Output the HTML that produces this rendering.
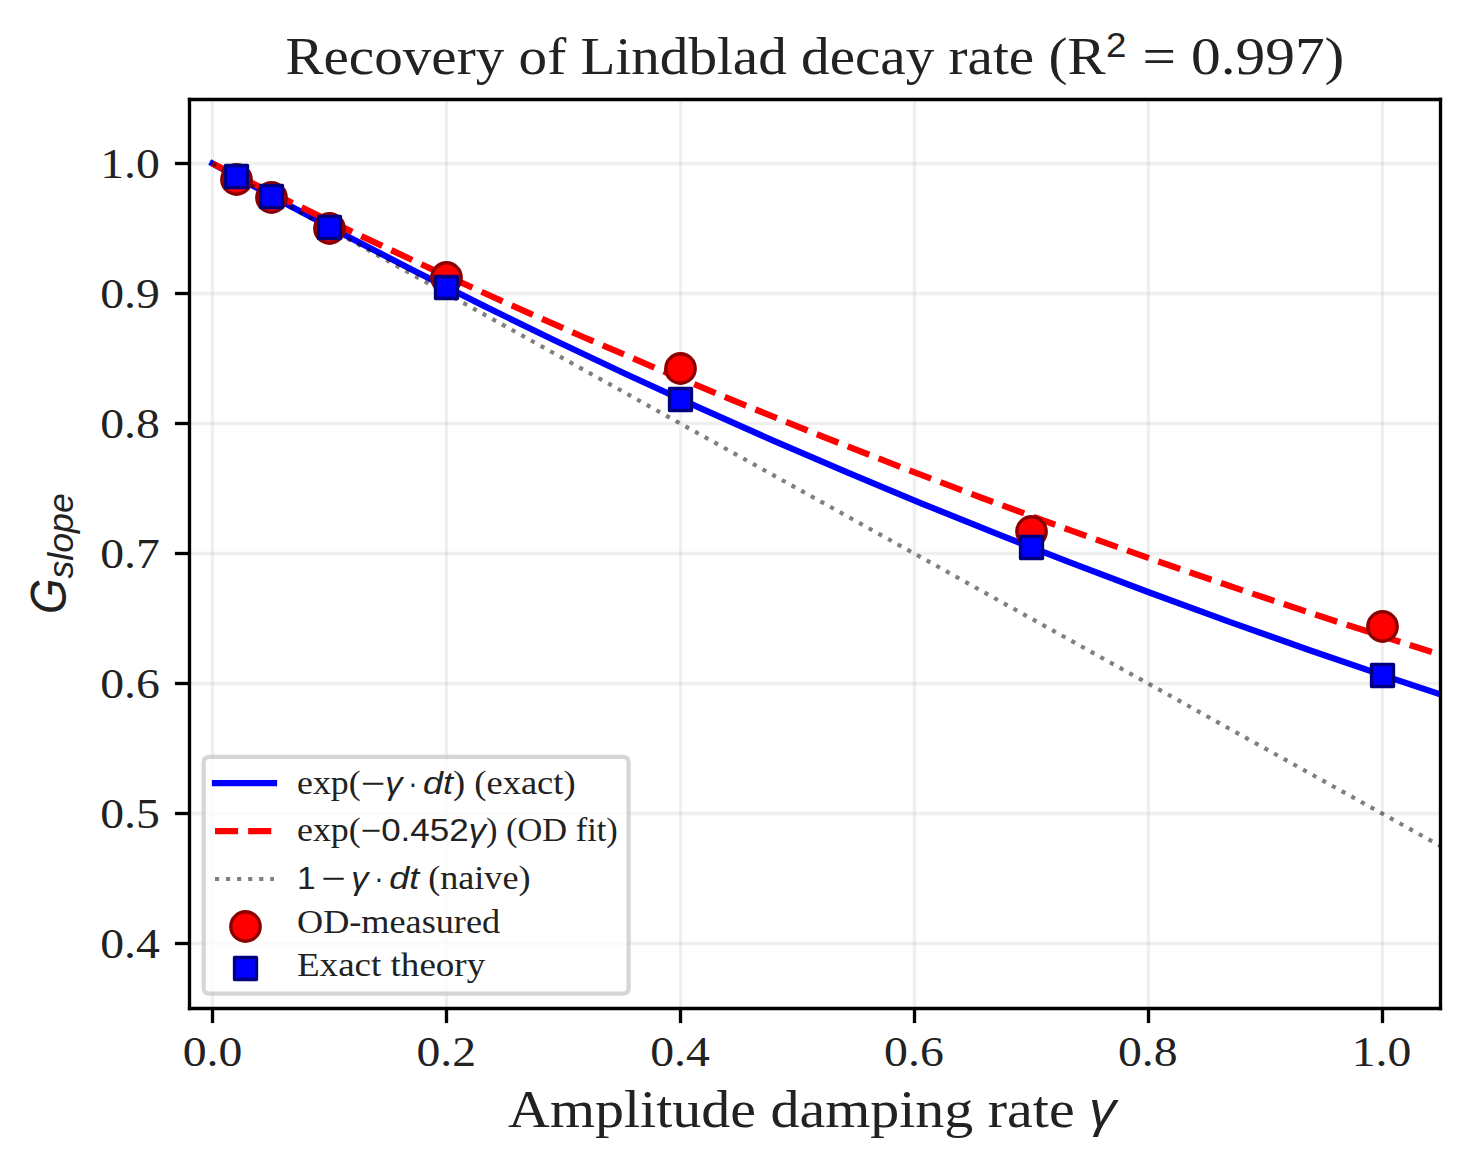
<!DOCTYPE html>
<html><head><meta charset="utf-8"><title>Recovery of Lindblad decay rate</title><style>html,body{margin:0;padding:0;background:#fff;width:1470px;height:1170px;overflow:hidden}svg{display:block}</style></head><body>
<svg width="1470" height="1170" viewBox="0 0 352.8 280.8" version="1.1">
 
 <defs>
  <style type="text/css">*{stroke-linejoin: round; stroke-linecap: butt}</style>
 </defs>
 <g id="figure_1">
  <g id="patch_1">
   <path d="M 0 280.8 
L 352.8 280.8 
L 352.8 0 
L 0 0 
z
" style="fill: #ffffff"/>
  </g>
  <g id="axes_1">
   <g id="patch_2">
    <path d="M 45.38 241.96 
L 345.6 241.96 
L 345.6 23.64 
L 45.38 23.64 
z
" style="fill: #ffffff"/>
   </g>
   <g id="matplotlib.axis_1">
    <g id="xtick_1">
     <g id="line2d_1">
      <path d="M 51.000000 242.040000 L 51.000000 23.880000" clip-path="url(#p23fef5aefc)" style="fill: none; stroke: #b0b0b0; stroke-opacity: 0.2; stroke-width: 0.8; stroke-linecap: square"/>
     </g>
     <g id="line2d_2">
      <defs>
       <path id="m1504cfccaf" d="M 0 0 
L 0 3.5 
" style="stroke: #000000; stroke-width: 0.8"/>
      </defs>
      <g>
       <use href="#m1504cfccaf" x="51.000000" y="242.040000" style="stroke: #000000; stroke-width: 0.8"/>
      </g>
     </g>
     <g id="text_1">
      <text x="43.8351" y="255.9200" style="font-family:&quot;Liberation Serif&quot;,serif;font-size:10.2600px;font-style:normal;white-space:pre;fill:#222" textLength="14.3130" lengthAdjust="spacingAndGlyphs">0.0</text>
     </g>
    </g>
    <g id="xtick_2">
     <g id="line2d_3">
      <path d="M 107.160000 242.040000 L 107.160000 23.880000" clip-path="url(#p23fef5aefc)" style="fill: none; stroke: #b0b0b0; stroke-opacity: 0.2; stroke-width: 0.8; stroke-linecap: square"/>
     </g>
     <g id="line2d_4">
      <g>
       <use href="#m1504cfccaf" x="107.160000" y="242.040000" style="stroke: #000000; stroke-width: 0.8"/>
      </g>
     </g>
     <g id="text_2">
      <text x="99.9510" y="255.9200" style="font-family:&quot;Liberation Serif&quot;,serif;font-size:10.2600px;font-style:normal;white-space:pre;fill:#222" textLength="14.3130" lengthAdjust="spacingAndGlyphs">0.2</text>
     </g>
    </g>
    <g id="xtick_3">
     <g id="line2d_5">
      <path d="M 163.320000 242.040000 L 163.320000 23.880000" clip-path="url(#p23fef5aefc)" style="fill: none; stroke: #b0b0b0; stroke-opacity: 0.2; stroke-width: 0.8; stroke-linecap: square"/>
     </g>
     <g id="line2d_6">
      <g>
       <use href="#m1504cfccaf" x="163.320000" y="242.040000" style="stroke: #000000; stroke-width: 0.8"/>
      </g>
     </g>
     <g id="text_3">
      <text x="156.0669" y="255.9200" style="font-family:&quot;Liberation Serif&quot;,serif;font-size:10.2600px;font-style:normal;white-space:pre;fill:#222" textLength="14.3130" lengthAdjust="spacingAndGlyphs">0.4</text>
     </g>
    </g>
    <g id="xtick_4">
     <g id="line2d_7">
      <path d="M 219.480000 242.040000 L 219.480000 23.880000" clip-path="url(#p23fef5aefc)" style="fill: none; stroke: #b0b0b0; stroke-opacity: 0.2; stroke-width: 0.8; stroke-linecap: square"/>
     </g>
     <g id="line2d_8">
      <g>
       <use href="#m1504cfccaf" x="219.480000" y="242.040000" style="stroke: #000000; stroke-width: 0.8"/>
      </g>
     </g>
     <g id="text_4">
      <text x="212.1828" y="255.9200" style="font-family:&quot;Liberation Serif&quot;,serif;font-size:10.2600px;font-style:normal;white-space:pre;fill:#222" textLength="14.3130" lengthAdjust="spacingAndGlyphs">0.6</text>
     </g>
    </g>
    <g id="xtick_5">
     <g id="line2d_9">
      <path d="M 275.640000 242.040000 L 275.640000 23.880000" clip-path="url(#p23fef5aefc)" style="fill: none; stroke: #b0b0b0; stroke-opacity: 0.2; stroke-width: 0.8; stroke-linecap: square"/>
     </g>
     <g id="line2d_10">
      <g>
       <use href="#m1504cfccaf" x="275.640000" y="242.040000" style="stroke: #000000; stroke-width: 0.8"/>
      </g>
     </g>
     <g id="text_5">
      <text x="268.2986" y="255.9200" style="font-family:&quot;Liberation Serif&quot;,serif;font-size:10.2600px;font-style:normal;white-space:pre;fill:#222" textLength="14.3130" lengthAdjust="spacingAndGlyphs">0.8</text>
     </g>
    </g>
    <g id="xtick_6">
     <g id="line2d_11">
      <path d="M 331.800000 242.040000 L 331.800000 23.880000" clip-path="url(#p23fef5aefc)" style="fill: none; stroke: #b0b0b0; stroke-opacity: 0.2; stroke-width: 0.8; stroke-linecap: square"/>
     </g>
     <g id="line2d_12">
      <g>
       <use href="#m1504cfccaf" x="331.800000" y="242.040000" style="stroke: #000000; stroke-width: 0.8"/>
      </g>
     </g>
     <g id="text_6">
      <text x="324.4145" y="255.9200" style="font-family:&quot;Liberation Serif&quot;,serif;font-size:10.2600px;font-style:normal;white-space:pre;fill:#222" textLength="14.3130" lengthAdjust="spacingAndGlyphs">1.0</text>
     </g>
    </g>
    <g id="text_7">
     
     <g transform="translate(121.929509 270.6)">
      <text x="0.0000" y="-0.1606" style="font-family:&quot;Liberation Serif&quot;,serif;font-size:12.5400px;font-style:normal;white-space:pre;fill:#222" textLength="139.4604" lengthAdjust="spacingAndGlyphs">Amplitude damping rate </text>
<text x="139.4604" y="-0.1606" style="font-family:&quot;Liberation Sans&quot;,sans-serif;font-size:11.8800px;font-style:italic;white-space:pre;fill:#222" textLength="6.5098" lengthAdjust="spacingAndGlyphs">γ</text>
     </g>
    </g>
   </g>
   <g id="matplotlib.axis_2">
    <g id="ytick_1">
     <g id="line2d_13">
      <path d="M 45.480000 226.440000 L 345.720000 226.440000" clip-path="url(#p23fef5aefc)" style="fill: none; stroke: #b0b0b0; stroke-opacity: 0.2; stroke-width: 0.8; stroke-linecap: square"/>
     </g>
     <g id="line2d_14">
      <defs>
       <path id="m5d545ce8f8" d="M 0 0 
L -3.5 0 
" style="stroke: #000000; stroke-width: 0.8"/>
      </defs>
      <g>
       <use href="#m5d545ce8f8" x="45.480000" y="226.440000" style="stroke: #000000; stroke-width: 0.8"/>
      </g>
     </g>
     <g id="text_8">
      <text x="24.0670" y="229.9657" style="font-family:&quot;Liberation Serif&quot;,serif;font-size:10.2600px;font-style:normal;white-space:pre;fill:#222" textLength="14.3130" lengthAdjust="spacingAndGlyphs">0.4</text>
     </g>
    </g>
    <g id="ytick_2">
     <g id="line2d_15">
      <path d="M 45.480000 195.240000 L 345.720000 195.240000" clip-path="url(#p23fef5aefc)" style="fill: none; stroke: #b0b0b0; stroke-opacity: 0.2; stroke-width: 0.8; stroke-linecap: square"/>
     </g>
     <g id="line2d_16">
      <g>
       <use href="#m5d545ce8f8" x="45.480000" y="195.240000" style="stroke: #000000; stroke-width: 0.8"/>
      </g>
     </g>
     <g id="text_9">
      <text x="24.0670" y="198.7771" style="font-family:&quot;Liberation Serif&quot;,serif;font-size:10.2600px;font-style:normal;white-space:pre;fill:#222" textLength="14.3130" lengthAdjust="spacingAndGlyphs">0.5</text>
     </g>
    </g>
    <g id="ytick_3">
     <g id="line2d_17">
      <path d="M 45.480000 164.040000 L 345.720000 164.040000" clip-path="url(#p23fef5aefc)" style="fill: none; stroke: #b0b0b0; stroke-opacity: 0.2; stroke-width: 0.8; stroke-linecap: square"/>
     </g>
     <g id="line2d_18">
      <g>
       <use href="#m5d545ce8f8" x="45.480000" y="164.040000" style="stroke: #000000; stroke-width: 0.8"/>
      </g>
     </g>
     <g id="text_10">
      <text x="24.0670" y="167.5886" style="font-family:&quot;Liberation Serif&quot;,serif;font-size:10.2600px;font-style:normal;white-space:pre;fill:#222" textLength="14.3130" lengthAdjust="spacingAndGlyphs">0.6</text>
     </g>
    </g>
    <g id="ytick_4">
     <g id="line2d_19">
      <path d="M 45.480000 132.840000 L 345.720000 132.840000" clip-path="url(#p23fef5aefc)" style="fill: none; stroke: #b0b0b0; stroke-opacity: 0.2; stroke-width: 0.8; stroke-linecap: square"/>
     </g>
     <g id="line2d_20">
      <g>
       <use href="#m5d545ce8f8" x="45.480000" y="132.840000" style="stroke: #000000; stroke-width: 0.8"/>
      </g>
     </g>
     <g id="text_11">
      <text x="24.0670" y="136.4000" style="font-family:&quot;Liberation Serif&quot;,serif;font-size:10.2600px;font-style:normal;white-space:pre;fill:#222" textLength="14.3130" lengthAdjust="spacingAndGlyphs">0.7</text>
     </g>
    </g>
    <g id="ytick_5">
     <g id="line2d_21">
      <path d="M 45.480000 101.640000 L 345.720000 101.640000" clip-path="url(#p23fef5aefc)" style="fill: none; stroke: #b0b0b0; stroke-opacity: 0.2; stroke-width: 0.8; stroke-linecap: square"/>
     </g>
     <g id="line2d_22">
      <g>
       <use href="#m5d545ce8f8" x="45.480000" y="101.640000" style="stroke: #000000; stroke-width: 0.8"/>
      </g>
     </g>
     <g id="text_12">
      <text x="24.0670" y="105.2114" style="font-family:&quot;Liberation Serif&quot;,serif;font-size:10.2600px;font-style:normal;white-space:pre;fill:#222" textLength="14.3130" lengthAdjust="spacingAndGlyphs">0.8</text>
     </g>
    </g>
    <g id="ytick_6">
     <g id="line2d_23">
      <path d="M 45.480000 70.440000 L 345.720000 70.440000" clip-path="url(#p23fef5aefc)" style="fill: none; stroke: #b0b0b0; stroke-opacity: 0.2; stroke-width: 0.8; stroke-linecap: square"/>
     </g>
     <g id="line2d_24">
      <g>
       <use href="#m5d545ce8f8" x="45.480000" y="70.440000" style="stroke: #000000; stroke-width: 0.8"/>
      </g>
     </g>
     <g id="text_13">
      <text x="24.0670" y="74.0229" style="font-family:&quot;Liberation Serif&quot;,serif;font-size:10.2600px;font-style:normal;white-space:pre;fill:#222" textLength="14.3130" lengthAdjust="spacingAndGlyphs">0.9</text>
     </g>
    </g>
    <g id="ytick_7">
     <g id="line2d_25">
      <path d="M 45.480000 39.240000 L 345.720000 39.240000" clip-path="url(#p23fef5aefc)" style="fill: none; stroke: #b0b0b0; stroke-opacity: 0.2; stroke-width: 0.8; stroke-linecap: square"/>
     </g>
     <g id="line2d_26">
      <g>
       <use href="#m5d545ce8f8" x="45.480000" y="39.240000" style="stroke: #000000; stroke-width: 0.8"/>
      </g>
     </g>
     <g id="text_14">
      <text x="24.0670" y="42.8343" style="font-family:&quot;Liberation Serif&quot;,serif;font-size:10.2600px;font-style:normal;white-space:pre;fill:#222" textLength="14.3130" lengthAdjust="spacingAndGlyphs">1.0</text>
     </g>
    </g>
    <g id="text_15">
     
     <g transform="translate(16.08 147.3797) rotate(-90)">
      <text x="0.0000" y="-0.3481" style="font-family:&quot;Liberation Sans&quot;,sans-serif;font-size:11.8800px;font-style:italic;white-space:pre;fill:#222" textLength="8.5239" lengthAdjust="spacingAndGlyphs">G</text>
<text x="8.5239" y="1.4566" style="font-family:&quot;Liberation Sans&quot;,sans-serif;font-size:8.3160px;font-style:italic;white-space:pre;fill:#222" textLength="20.4870" lengthAdjust="spacingAndGlyphs">slope</text>
     </g>
    </g>
   </g>
   <g id="line2d_27">
    <path d="M 50.991589 39.234286 
L 67.276476 48.155172 
L 83.561363 56.820893 
L 99.84625 65.238749 
L 116.131137 73.415828 
L 132.416024 81.359017 
L 150.181355 89.765421 
L 167.946687 97.90986 
L 185.712018 105.8005 
L 203.477349 113.445248 
L 221.242681 120.851767 
L 239.008012 128.027481 
L 256.773343 134.979582 
L 276.019119 142.266762 
L 295.264895 149.308254 
L 314.51067 156.112342 
L 333.756446 162.68703 
L 345.6 166.622333 
L 345.6 166.622333 
" clip-path="url(#p23fef5aefc)" style="fill: none; stroke: #0000ff; stroke-width: 1.5; stroke-linecap: square"/>
   </g>
   <g id="line2d_28">
    <path d="M 50.991589 39.234286 
L 68.75692 48.033657 
L 86.522251 56.584768 
L 104.287583 64.894622 
L 122.052914 72.970027 
L 139.818245 80.817597 
L 159.064021 89.069477 
L 178.309797 97.06944 
L 197.555572 104.825178 
L 216.801348 112.344146 
L 236.047123 119.633573 
L 256.773343 127.235051 
L 277.499563 134.586915 
L 298.225783 141.697361 
L 318.952003 148.574316 
L 339.678223 155.225447 
L 345.6 157.085337 
L 345.6 157.085337 
" clip-path="url(#p23fef5aefc)" style="fill: none; stroke-dasharray: 5.55,2.4; stroke-dashoffset: 0; stroke: #ff0000; stroke-width: 1.5"/>
   </g>
   <g id="line2d_29">
    <path d="M 50.991589 39.234286 
L 345.6 202.974286 
L 345.6 202.974286 
" clip-path="url(#p23fef5aefc)" style="fill: none; stroke-dasharray: 1,1.65; stroke-dashoffset: 0; stroke: #000000; stroke-opacity: 0.5"/>
   </g>
   <g id="patch_3">
    <path d="M 45.480000 242.040000 L 45.480000 23.880000" style="fill: none; stroke: #000000; stroke-width: 0.8; stroke-linejoin: miter; stroke-linecap: square"/>
   </g>
   <g id="patch_4">
    <path d="M 345.720000 242.040000 L 345.720000 23.880000" style="fill: none; stroke: #000000; stroke-width: 0.8; stroke-linejoin: miter; stroke-linecap: square"/>
   </g>
   <g id="patch_5">
    <path d="M 45.480000 242.040000 L 345.720000 242.040000" style="fill: none; stroke: #000000; stroke-width: 0.8; stroke-linejoin: miter; stroke-linecap: square"/>
   </g>
   <g id="patch_6">
    <path d="M 45.480000 23.880000 L 345.720000 23.880000" style="fill: none; stroke: #000000; stroke-width: 0.8; stroke-linejoin: miter; stroke-linecap: square"/>
   </g>
   <g id="text_16">
    
    <g transform="translate(68.493615 17.64)">
     <text x="0.0000" y="0.1712" style="font-family:&quot;Liberation Serif&quot;,serif;font-size:12.5400px;font-style:normal;white-space:pre;fill:#222" textLength="196.8613" lengthAdjust="spacingAndGlyphs">Recovery of Lindblad decay rate (R</text>
<text x="202.1664" y="0.1712" style="font-family:&quot;Liberation Serif&quot;,serif;font-size:12.5400px;font-style:normal;white-space:pre;fill:#222" textLength="51.9922" lengthAdjust="spacingAndGlyphs"> = 0.997)</text>
<text x="196.9666" y="-4.0397" style="font-family:&quot;Liberation Sans&quot;,sans-serif;font-size:8.3160px;font-style:normal;white-space:pre;fill:#222" textLength="4.8990" lengthAdjust="spacingAndGlyphs">2</text>
    </g>
   </g>
   <g id="PathCollection_1">
    <defs>
     <path id="m78ef99fb69" d="M 0 3.535534 
C 0.937635 3.535534 1.836992 3.163008 2.5 2.5 
C 3.163008 1.836992 3.535534 0.937635 3.535534 0 
C 3.535534 -0.937635 3.163008 -1.836992 2.5 -2.5 
C 1.836992 -3.163008 0.937635 -3.535534 0 -3.535534 
C -0.937635 -3.535534 -1.836992 -3.163008 -2.5 -2.5 
C -3.163008 -1.836992 -3.535534 -0.937635 -3.535534 0 
C -3.535534 0.937635 -3.163008 1.836992 -2.5 2.5 
C -1.836992 3.163008 -0.937635 3.535534 0 3.535534 
z
" style="stroke: #8b0000; stroke-width: 0.8"/>
    </defs>
    <g clip-path="url(#p23fef5aefc)">
     <use href="#m78ef99fb69" x="56.760000" y="43.080000" style="fill: #ff0000; stroke: #8b0000; stroke-width: 0.8"/>
     <use href="#m78ef99fb69" x="65.160000" y="47.400000" style="fill: #ff0000; stroke: #8b0000; stroke-width: 0.8"/>
     <use href="#m78ef99fb69" x="79.080000" y="54.840000" style="fill: #ff0000; stroke: #8b0000; stroke-width: 0.8"/>
     <use href="#m78ef99fb69" x="107.160000" y="66.600000" style="fill: #ff0000; stroke: #8b0000; stroke-width: 0.8"/>
     <use href="#m78ef99fb69" x="163.320000" y="88.440000" style="fill: #ff0000; stroke: #8b0000; stroke-width: 0.8"/>
     <use href="#m78ef99fb69" x="247.560000" y="127.560000" style="fill: #ff0000; stroke: #8b0000; stroke-width: 0.8"/>
     <use href="#m78ef99fb69" x="331.800000" y="150.360000" style="fill: #ff0000; stroke: #8b0000; stroke-width: 0.8"/>
    </g>
   </g>
   <g id="legend_1">
    <g id="patch_7">
     <path d="M 50.28 238.46 
L 149.469292 238.46 
Q 150.869292 238.46 150.869292 237.06 
L 150.869292 183.06 
Q 150.869292 181.66 149.469292 181.66 
L 50.28 181.66 
Q 48.88 181.66 48.88 183.06 
L 48.88 237.06 
Q 48.88 238.46 50.28 238.46 
z
" style="fill: #ffffff; opacity: 0.8; stroke: #cccccc; stroke-linejoin: miter"/>
    </g>
    <g id="line2d_30">
     <path d="M 51.600000 187.920000 L 58.800000 187.920000 L 65.760000 187.920000" style="fill: none; stroke: #0000ff; stroke-width: 1.5; stroke-linecap: square"/>
    </g>
    <g id="text_17">
     
     <g transform="translate(71.28 190.46)">
      <text x="0.0000" y="0.0325" style="font-family:&quot;Liberation Serif&quot;,serif;font-size:7.9800px;font-style:normal;white-space:pre;fill:#222" textLength="15.3022" lengthAdjust="spacingAndGlyphs">exp(</text>
<text x="37.4507" y="0.0325" style="font-family:&quot;Liberation Serif&quot;,serif;font-size:7.9800px;font-style:normal;white-space:pre;fill:#222" textLength="29.4150" lengthAdjust="spacingAndGlyphs">) (exact)</text>
<text x="15.3022" y="0.0325" style="font-family:&quot;Liberation Sans&quot;,sans-serif;font-size:7.5600px;font-style:normal;white-space:pre;fill:#222" textLength="5.8652" lengthAdjust="spacingAndGlyphs">−</text>
<text x="26.6738" y="0.0325" style="font-family:&quot;Liberation Sans&quot;,sans-serif;font-size:7.5600px;font-style:normal;white-space:pre;fill:#222" textLength="2.2251" lengthAdjust="spacingAndGlyphs">·</text>
<text x="21.1675" y="0.0325" style="font-family:&quot;Liberation Sans&quot;,sans-serif;font-size:7.5600px;font-style:italic;white-space:pre;fill:#222" textLength="4.1426" lengthAdjust="spacingAndGlyphs">γ</text>
<text x="30.2627" y="0.0325" style="font-family:&quot;Liberation Sans&quot;,sans-serif;font-size:7.5600px;font-style:italic;white-space:pre;fill:#222" textLength="7.1880" lengthAdjust="spacingAndGlyphs">dt</text>
     </g>
    </g>
    <g id="line2d_31">
     <path d="M 51.600000 199.440000 L 58.800000 199.440000 L 65.760000 199.440000" style="fill: none; stroke-dasharray: 5.55,2.4; stroke-dashoffset: 0; stroke: #ff0000; stroke-width: 1.5"/>
    </g>
    <g id="text_18">
     
     <g transform="translate(71.28 201.88)">
      <text x="0.0000" y="0.0325" style="font-family:&quot;Liberation Serif&quot;,serif;font-size:7.9800px;font-style:normal;white-space:pre;fill:#222" textLength="15.3022" lengthAdjust="spacingAndGlyphs">exp(</text>
<text x="45.3496" y="0.0325" style="font-family:&quot;Liberation Serif&quot;,serif;font-size:7.9800px;font-style:normal;white-space:pre;fill:#222" textLength="31.6367" lengthAdjust="spacingAndGlyphs">) (OD fit)</text>
<text x="15.3022" y="0.0325" style="font-family:&quot;Liberation Sans&quot;,sans-serif;font-size:7.5600px;font-style:normal;white-space:pre;fill:#222" textLength="25.9048" lengthAdjust="spacingAndGlyphs">−0.452</text>
<text x="41.2070" y="0.0325" style="font-family:&quot;Liberation Sans&quot;,sans-serif;font-size:7.5600px;font-style:italic;white-space:pre;fill:#222" textLength="4.1426" lengthAdjust="spacingAndGlyphs">γ</text>
     </g>
    </g>
    <g id="line2d_32">
     <path d="M 51.600000 210.960000 L 58.800000 210.960000 L 65.760000 210.960000" style="fill: none; stroke-dasharray: 1,1.65; stroke-dashoffset: 0; stroke: #000000; stroke-opacity: 0.5"/>
    </g>
    <g id="text_19">
     
     <g transform="translate(71.28 213.3)">
      <text x="0.0000" y="0.0325" style="font-family:&quot;Liberation Sans&quot;,sans-serif;font-size:7.5600px;font-style:normal;white-space:pre;fill:#222" textLength="4.4536" lengthAdjust="spacingAndGlyphs">1</text>
<text x="5.8174" y="0.0325" style="font-family:&quot;Liberation Sans&quot;,sans-serif;font-size:7.5600px;font-style:normal;white-space:pre;fill:#222" textLength="5.8652" lengthAdjust="spacingAndGlyphs">−</text>
<text x="18.5527" y="0.0325" style="font-family:&quot;Liberation Sans&quot;,sans-serif;font-size:7.5600px;font-style:normal;white-space:pre;fill:#222" textLength="2.2251" lengthAdjust="spacingAndGlyphs">·</text>
<text x="13.0464" y="0.0325" style="font-family:&quot;Liberation Sans&quot;,sans-serif;font-size:7.5600px;font-style:italic;white-space:pre;fill:#222" textLength="4.1426" lengthAdjust="spacingAndGlyphs">γ</text>
<text x="22.1416" y="0.0325" style="font-family:&quot;Liberation Sans&quot;,sans-serif;font-size:7.5600px;font-style:italic;white-space:pre;fill:#222" textLength="7.1880" lengthAdjust="spacingAndGlyphs">dt</text>
<text x="29.3296" y="0.0325" style="font-family:&quot;Liberation Serif&quot;,serif;font-size:7.9800px;font-style:normal;white-space:pre;fill:#222" textLength="26.7046" lengthAdjust="spacingAndGlyphs"> (naive)</text>
     </g>
    </g>
    <g id="PathCollection_2">
     <g>
      <use href="#m78ef99fb69" x="58.920000" y="222.360000" style="fill: #ff0000; stroke: #8b0000; stroke-width: 0.8"/>
     </g>
    </g>
    <g id="text_20">
     <text x="71.2800" y="224.0000" style="font-family:&quot;Liberation Serif&quot;,serif;font-size:7.9800px;font-style:normal;white-space:pre;fill:#222" textLength="48.7402" lengthAdjust="spacingAndGlyphs">OD-measured</text>
    </g>
    <g id="PathCollection_3">
     <defs>
      <path id="m78dced53e0" d="M -2.738613 2.738613 
L 2.738613 2.738613 
L 2.738613 -2.738613 
L -2.738613 -2.738613 
z
" style="stroke: #000080; stroke-width: 0.8"/>
     </defs>
     <g>
      <path d="M 56.280000 229.800000 L 61.560000 229.800000 L 61.560000 235.080000 L 56.280000 235.080000 Z" style="fill: #0000ff; stroke: #000080; stroke-width: 0.8"/>
     </g>
    </g>
    <g id="text_21">
     <text x="71.2800" y="234.2200" style="font-family:&quot;Liberation Serif&quot;,serif;font-size:7.9800px;font-style:normal;white-space:pre;fill:#222" textLength="45.1685" lengthAdjust="spacingAndGlyphs">Exact theory</text>
    </g>
   </g>
   <g id="PathCollection_4">
    <g clip-path="url(#p23fef5aefc)">
     <path d="M 54.120000 39.720000 L 59.400000 39.720000 L 59.400000 45.000000 L 54.120000 45.000000 Z" style="fill: #0000ff; stroke: #000080; stroke-width: 0.8"/>
     <path d="M 62.520000 44.520000 L 67.800000 44.520000 L 67.800000 49.800000 L 62.520000 49.800000 Z" style="fill: #0000ff; stroke: #000080; stroke-width: 0.8"/>
     <path d="M 76.440000 51.960000 L 81.720000 51.960000 L 81.720000 57.240000 L 76.440000 57.240000 Z" style="fill: #0000ff; stroke: #000080; stroke-width: 0.8"/>
     <path d="M 104.520000 66.360000 L 109.800000 66.360000 L 109.800000 71.640000 L 104.520000 71.640000 Z" style="fill: #0000ff; stroke: #000080; stroke-width: 0.8"/>
     <path d="M 160.680000 93.240000 L 165.960000 93.240000 L 165.960000 98.520000 L 160.680000 98.520000 Z" style="fill: #0000ff; stroke: #000080; stroke-width: 0.8"/>
     <path d="M 244.920000 128.760000 L 250.200000 128.760000 L 250.200000 134.040000 L 244.920000 134.040000 Z" style="fill: #0000ff; stroke: #000080; stroke-width: 0.8"/>
     <path d="M 329.160000 159.480000 L 334.440000 159.480000 L 334.440000 164.760000 L 329.160000 164.760000 Z" style="fill: #0000ff; stroke: #000080; stroke-width: 0.8"/>
    </g>
   </g>
  </g>
 </g>
 <defs>
  <clipPath id="p23fef5aefc">
   <rect x="45.38" y="23.64" width="300.22" height="218.32"/>
  </clipPath>
 </defs>
</svg>

</body></html>
